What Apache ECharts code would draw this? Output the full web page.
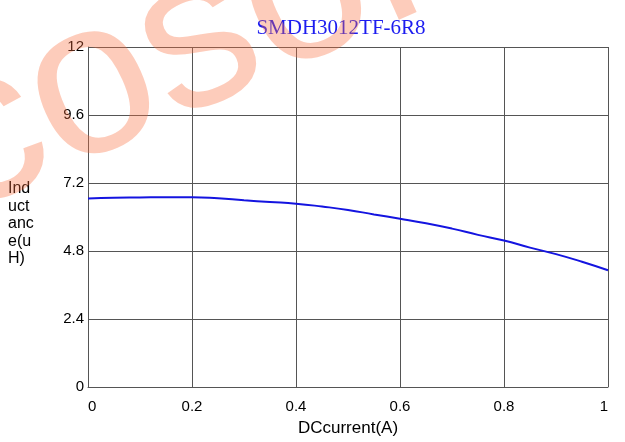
<!DOCTYPE html>
<html>
<head>
<meta charset="utf-8">
<script src="https://cdn.jsdelivr.net/npm/echarts@6/dist/echarts.min.js"></script>
<style>
html,body{margin:0;padding:0;background:#fff;}
#chart{width:625px;height:442px;}
</style>
</head>
<body>
<div id="chart"></div>
<script>
// Data
const currentA = [0, 0.05, 0.1, 0.15, 0.2, 0.25, 0.3, 0.35, 0.4, 0.45, 0.5, 0.55, 0.6, 0.65, 0.7, 0.75, 0.8, 0.85, 0.9, 0.95, 1.0];
const inductanceUH = [6.65, 6.68, 6.69, 6.70, 6.70, 6.66, 6.59, 6.53, 6.47, 6.37, 6.25, 6.09, 5.94, 5.78, 5.59, 5.37, 5.17, 4.92, 4.69, 4.42, 4.12];
const titleText = 'SMDH3012TF-6R8';
const xName = 'DCcurrent(A)';
const yNameLines = ['Ind', 'uct', 'anc', 'e(u', 'H)'];
const watermarkText = 'cosonic';

const chart = echarts.init(document.getElementById('chart'), null, {renderer: 'canvas'});
const gridColor = '#555';
const option = {
  animation: false,
  backgroundColor: '#fff',
  grid: {left: 88, right: 17, top: 47, bottom: 50, containLabel: false},
  xAxis: {
    type: 'value', min: 0, max: 1, interval: 0.2,
    name: xName, nameLocation: 'middle', nameGap: 33,
    nameTextStyle: {fontFamily: 'Liberation Sans, Arial', fontSize: 17, color: '#000'},
    axisLine: {show: true, lineStyle: {color: gridColor, width: 1}},
    axisTick: {show: false},
    axisLabel: {margin: 12, fontFamily: 'Liberation Sans, Arial', fontSize: 15, color: '#000',
      alignMinLabel: 'left', alignMaxLabel: 'right',
      formatter: v => String(+v.toFixed(1))},
    splitLine: {show: true, lineStyle: {color: gridColor, width: 1}}
  },
  yAxis: {
    type: 'value', min: 0, max: 12, interval: 2.4,
    axisLine: {show: true, lineStyle: {color: gridColor, width: 1}},
    axisTick: {show: false},
    axisLabel: {margin: 4, fontFamily: 'Liberation Sans, Arial', fontSize: 15, color: '#000',
      formatter: v => String(+v.toFixed(1))},
    splitLine: {show: true, lineStyle: {color: gridColor, width: 1}}
  },
  series: [{
    type: 'line',
    data: currentA.map((x, i) => [x, inductanceUH[i]]),
    showSymbol: false,
    smooth: true,
    lineStyle: {color: '#1414e0', width: 2},
    z: 3
  }],
  graphic: [
    {
      type: 'text', x: 341, y: 18, z: 10,
      style: {text: titleText, font: '21px "Liberation Serif", "Times New Roman", serif', fill: '#1c1cf0', textAlign: 'center', textVerticalAlign: 'top'}
    },
    {
      type: 'text', x: 8, y: 180, z: 10,
      style: {text: yNameLines.join('\n'), font: '16px "Liberation Sans", Arial', fill: '#000', lineHeight: 17.5, textVerticalAlign: 'top'}
    },
    {
      type: 'text', x: -64, y: 160, rotation: 0.42, z: 20, silent: true,
      style: {text: watermarkText, font: '220px "Liberation Sans", Arial', fill: 'rgba(250,110,60,0.35)', textVerticalAlign: 'middle'}
    }
  ]
};
chart.setOption(option);
</script>
</body>
</html>
